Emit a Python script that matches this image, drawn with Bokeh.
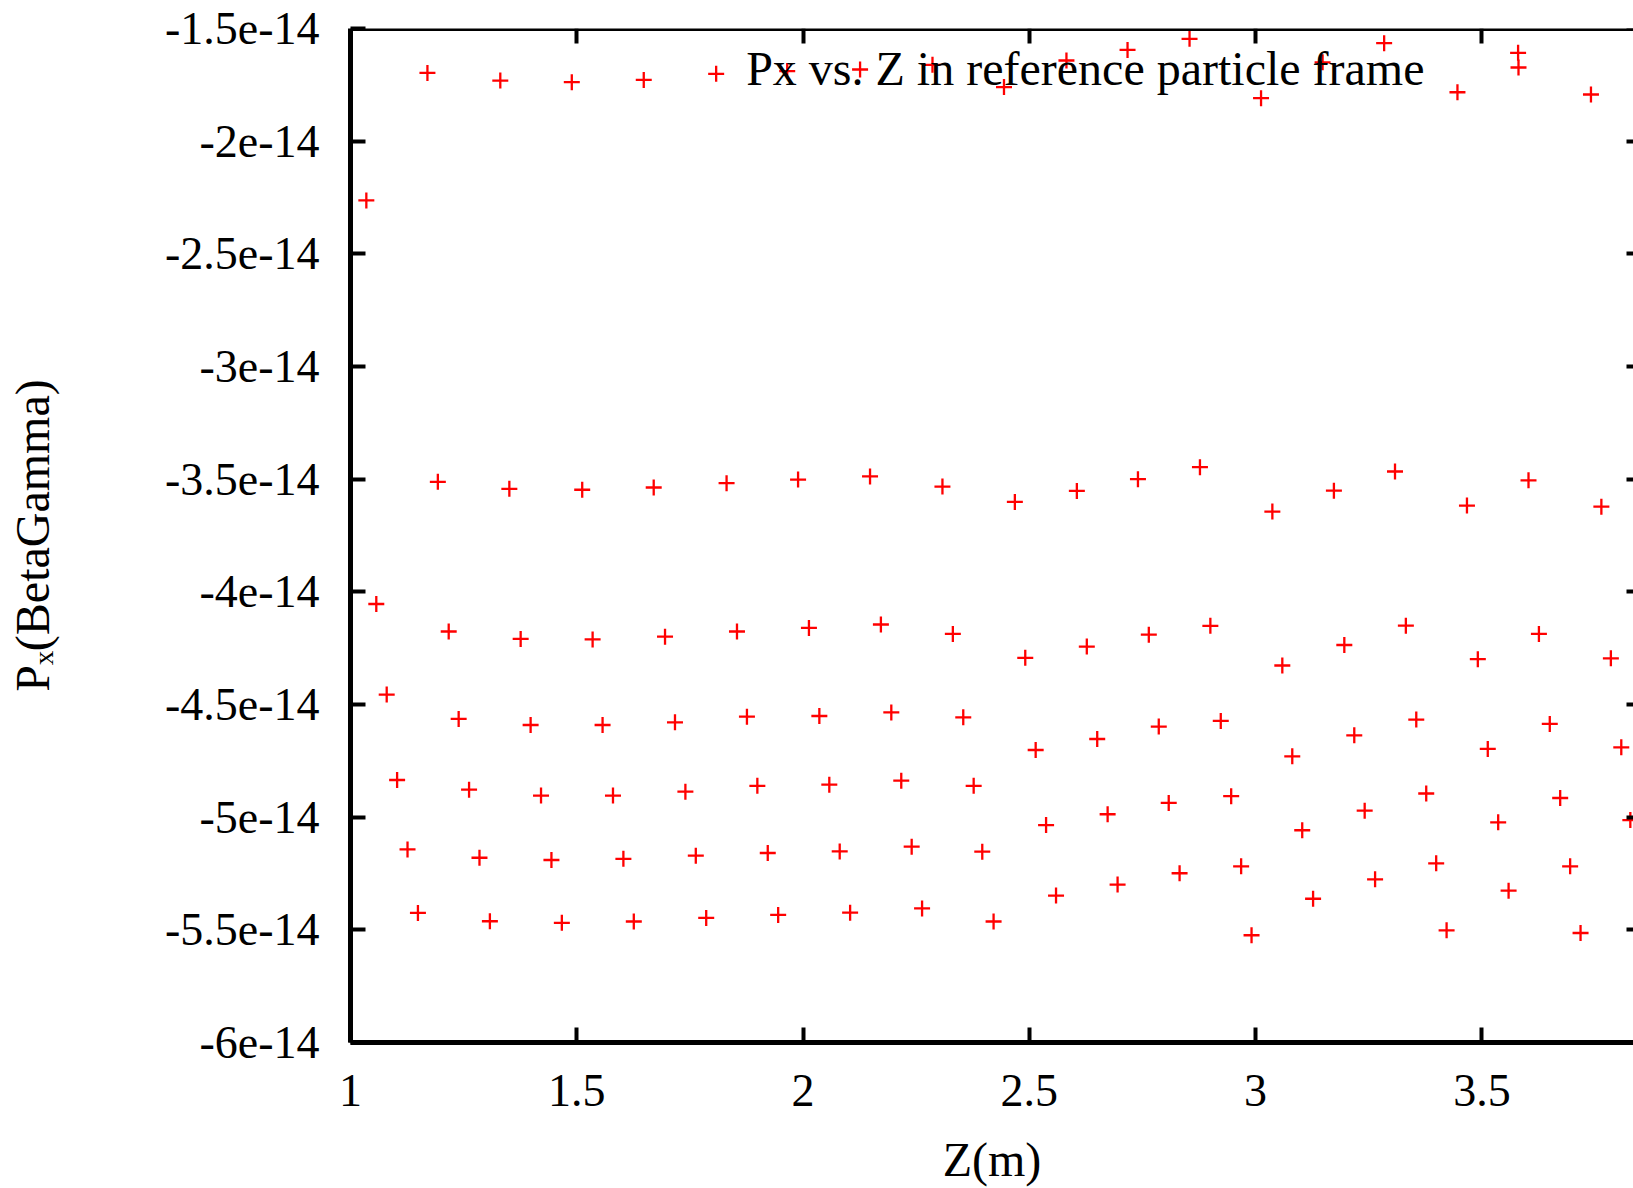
from bokeh.plotting import figure
from bokeh.models import (Range1d, FixedTicker, LinearAxis, CustomJSTickFormatter,
                          Legend, LegendItem, Label)
from bokeh.embed import file_html
from bokeh.resources import INLINE

# ---- data ----
z_m = [
    1.035, 1.170, 1.331, 1.489, 1.648, 1.808, 1.965, 2.126, 2.286, 2.444,
    2.582, 2.717, 2.854, 3.012, 3.148, 3.284, 3.446, 3.580, 3.741,
    1.193, 1.351, 1.512, 1.670, 1.831, 1.989, 2.148, 2.308, 2.468, 2.605,
    2.740, 2.877, 3.037, 3.173, 3.308, 3.467, 3.603, 3.764,
    1.057, 1.217, 1.376, 1.535, 1.695, 1.854, 2.013, 2.172, 2.331, 2.491,
    2.627, 2.764, 2.900, 3.059, 3.196, 3.332, 3.491, 3.626, 3.785,
    1.080, 1.239, 1.398, 1.557, 1.717, 1.876, 2.036, 2.195, 2.354, 2.514,
    2.650, 2.786, 2.923, 3.081, 3.218, 3.355, 3.513, 3.650, 3.808,
    1.103, 1.262, 1.421, 1.580, 1.740, 1.899, 2.058, 2.217, 2.377, 2.537,
    2.673, 2.808, 2.946, 3.103, 3.241, 3.377, 3.536, 3.673, 3.828,
    1.126, 1.285, 1.444, 1.603, 1.763, 1.922, 2.081, 2.240, 2.396, 2.559,
    2.695, 2.832, 2.968, 3.127, 3.264, 3.399, 3.559, 3.695,
    1.149, 1.308, 1.467, 1.626, 1.786, 1.945, 2.104, 2.263, 2.421, 2.991,
    3.422, 3.718,
]
px_betagamma = [
    -2.263e-14, -1.697e-14, -1.731e-14, -1.738e-14, -1.728e-14, -1.701e-14, -1.689e-14, -1.682e-14, -1.661e-14, -1.760e-14,
    -1.642e-14, -1.595e-14, -1.546e-14, -1.809e-14, -1.650e-14, -1.565e-14, -1.783e-14, -1.608e-14, -1.793e-14,
    -3.512e-14, -3.543e-14, -3.547e-14, -3.537e-14, -3.518e-14, -3.502e-14, -3.488e-14, -3.533e-14, -3.601e-14, -3.552e-14,
    -3.500e-14, -3.447e-14, -3.644e-14, -3.551e-14, -3.466e-14, -3.617e-14, -3.505e-14, -3.622e-14,
    -4.054e-14, -4.176e-14, -4.209e-14, -4.211e-14, -4.199e-14, -4.176e-14, -4.160e-14, -4.145e-14, -4.187e-14, -4.293e-14,
    -4.243e-14, -4.190e-14, -4.151e-14, -4.327e-14, -4.236e-14, -4.150e-14, -4.299e-14, -4.187e-14, -4.295e-14,
    -4.456e-14, -4.564e-14, -4.591e-14, -4.591e-14, -4.579e-14, -4.554e-14, -4.551e-14, -4.535e-14, -4.557e-14, -4.702e-14,
    -4.653e-14, -4.598e-14, -4.573e-14, -4.730e-14, -4.637e-14, -4.567e-14, -4.697e-14, -4.586e-14, -4.690e-14,
    -4.835e-14, -4.878e-14, -4.904e-14, -4.904e-14, -4.887e-14, -4.861e-14, -4.856e-14, -4.838e-14, -4.861e-14, -5.035e-14,
    -4.987e-14, -4.937e-14, -4.907e-14, -5.058e-14, -4.971e-14, -4.895e-14, -5.023e-14, -4.915e-14, -5.013e-14,
    -5.143e-14, -5.180e-14, -5.190e-14, -5.185e-14, -5.171e-14, -5.159e-14, -5.152e-14, -5.131e-14, -5.153e-14, -5.348e-14,
    -5.299e-14, -5.249e-14, -5.218e-14, -5.362e-14, -5.276e-14, -5.205e-14, -5.326e-14, -5.218e-14,
    -5.425e-14, -5.462e-14, -5.469e-14, -5.463e-14, -5.447e-14, -5.434e-14, -5.424e-14, -5.405e-14, -5.463e-14, -5.524e-14,
    -5.502e-14, -5.514e-14,
]

series_title = "Px vs. Z in reference particle frame"
x_label = "Z(m)"
y_label = "P\u2093(BetaGamma)"
x_ticks = [1.0, 1.5, 2.0, 2.5, 3.0, 3.5]
y_ticks = [-6e-14, -5.5e-14, -5e-14, -4.5e-14, -4e-14, -3.5e-14, -3e-14, -2.5e-14, -2e-14, -1.5e-14]
x_start, x_end = 1.0, 3.835
y_start, y_end = -6e-14, -1.5e-14

FONT = "Liberation Serif"

p = figure(width=1633, height=1188, output_backend="svg", toolbar_location=None,
           x_range=Range1d(x_start, x_end), y_range=Range1d(y_start, y_end),
           min_border_left=350, min_border_right=0, min_border_top=28, min_border_bottom=146)
p.background_fill_color = "white"
p.border_fill_color = "white"
p.outline_line_color = None
p.xgrid.visible = False
p.ygrid.visible = False

xfmt = CustomJSTickFormatter(code="return String(Math.round(tick*10)/10);")
yfmt = CustomJSTickFormatter(code="const v = Math.round(tick*1e15)/10; return v + 'e-14';")
blank = CustomJSTickFormatter(code="return '';")

def style_axis(ax, tick_in):
    ax.axis_line_width = 5
    ax.axis_line_color = "black"
    ax.major_tick_in = tick_in
    ax.major_tick_out = 0
    ax.major_tick_line_width = 4
    ax.major_tick_line_color = "black"
    ax.minor_tick_line_color = None
    ax.major_label_text_font = FONT
    ax.major_label_text_font_size = "46px"
    ax.major_label_text_color = "black"
    ax.axis_label_text_font = FONT
    ax.axis_label_text_font_size = "48px"
    ax.axis_label_text_font_style = "normal"
    ax.axis_label_text_color = "black"

xa = p.xaxis[0]
xa.ticker = FixedTicker(ticks=x_ticks)
xa.formatter = xfmt
style_axis(xa, 15)
xa.major_label_standoff = 32
xa.axis_label = x_label
xa.axis_label_standoff = 24

ya = p.yaxis[0]
ya.ticker = FixedTicker(ticks=y_ticks)
ya.formatter = yfmt
style_axis(ya, 15)
ya.major_label_standoff = 31
ya.axis_label = y_label
ya.axis_label_standoff = 103

top = LinearAxis(ticker=FixedTicker(ticks=x_ticks), formatter=blank, fixed_location=y_end)
style_axis(top, 15)
top.major_label_standoff = 0
p.add_layout(top, "above")

right = LinearAxis(ticker=FixedTicker(ticks=y_ticks), formatter=blank, fixed_location=x_end)
style_axis(right, 7)
right.axis_line_color = None
right.major_label_standoff = 0
p.add_layout(right, "right")

r = p.scatter(z_m, px_betagamma, marker="cross", size=16,
              line_color="red", line_width=2.3)

# gnuplot-style key: text on the left, sample on the right
key_sample = Legend(items=[LegendItem(label="", renderers=[r])],
                    location=(1148, 955), glyph_width=40, glyph_height=40,
                    label_standoff=0, label_width=0, label_height=10,
                    label_text_font_size="10px",
                    padding=0, margin=0, spacing=0,
                    border_line_color=None, background_fill_alpha=0)
p.add_layout(key_sample)

key_text = Label(x=1074, y=974, x_units="screen", y_units="screen",
                 text=series_title, text_align="right", text_baseline="alphabetic",
                 text_font=FONT, text_font_size="48px", text_color="black")
p.add_layout(key_text)

open("out.html", "w").write(file_html(p, INLINE))
